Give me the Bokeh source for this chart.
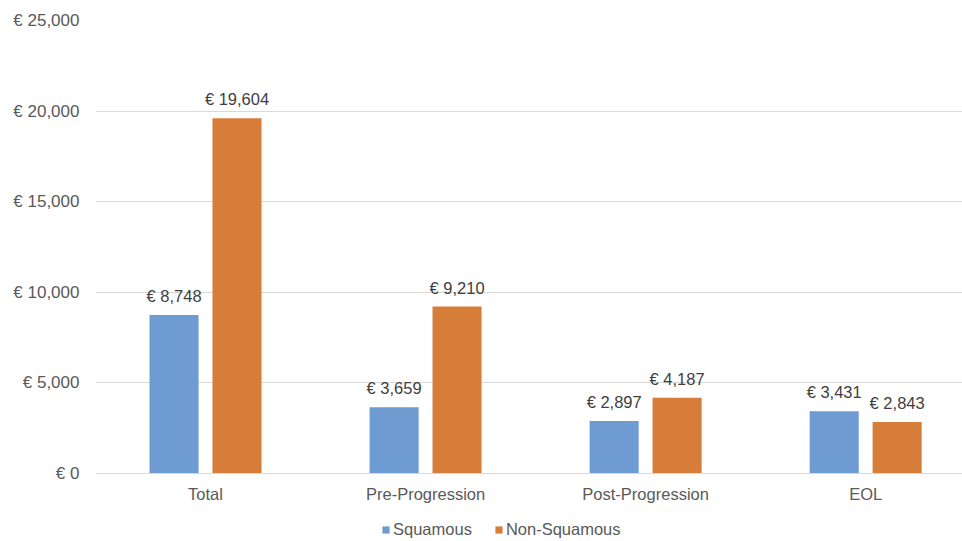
from bokeh.plotting import figure
from bokeh.layouts import column
from bokeh.models import Range1d, FixedTicker, ColumnDataSource, Legend, LegendItem, LabelSet
from bokeh.core.properties import value
from bokeh.embed import file_html
from bokeh.resources import INLINE

categories = ["Total", "Pre-Progression", "Post-Progression", "EOL"]
series_names = ["Squamous", "Non-Squamous"]
squamous = [8748, 3659, 2897, 3431]
non_squamous = [19604, 9210, 4187, 2843]
y_ticks = [0, 5000, 10000, 15000, 20000, 25000]
y_tick_labels = ["€ 0", "€ 5,000", "€ 10,000", "€ 15,000", "€ 20,000", "€ 25,000"]

BLUE = "#6F9BD3"
ORANGE = "#D67D3A"
GRID = "#D9D9D9"
TXT = "#595959"
FONT = "Liberation Sans"
FS = "16.5px"

p = figure(width=962, height=510, output_backend="svg", toolbar_location=None,
           x_range=Range1d(-0.5, 3.44), y_range=Range1d(0, 25000),
           min_border_left=95, min_border_right=0, min_border_top=20,
           min_border_bottom=37)
p.outline_line_color = None

xs = list(range(len(categories)))
off = 0.143
bw = 0.223
src_a = ColumnDataSource(dict(x=[x - off for x in xs], y=squamous,
                              lab=["€ {:,}".format(v) for v in squamous]))
src_b = ColumnDataSource(dict(x=[x + off for x in xs], y=non_squamous,
                              lab=["€ {:,}".format(v) for v in non_squamous]))
p.vbar(x="x", top="y", width=bw, source=src_a, color=BLUE, line_color=None)
p.vbar(x="x", top="y", width=bw, source=src_b, color=ORANGE, line_color=None)

for s in (src_a, src_b):
    p.add_layout(LabelSet(x="x", y="y", text="lab", source=s, text_align="center",
                          text_baseline="bottom", y_offset=10, text_font=value(FONT),
                          text_font_size=FS, text_color="#404040"))

p.xaxis.ticker = FixedTicker(ticks=xs)
p.xaxis.major_label_overrides = {x: c for x, c in zip(xs, categories)}
p.xaxis.major_tick_line_color = None
p.xaxis.minor_tick_line_color = None
p.xaxis.axis_line_color = GRID
p.xaxis.major_label_text_font = FONT
p.xaxis.major_label_text_font_size = FS
p.xaxis.major_label_text_color = TXT
p.xaxis.major_label_standoff = 5

p.yaxis.ticker = FixedTicker(ticks=y_ticks)
p.yaxis.major_label_overrides = {t: l for t, l in zip(y_ticks, y_tick_labels)}
p.yaxis.major_tick_line_color = None
p.yaxis.minor_tick_line_color = None
p.yaxis.axis_line_color = None
p.yaxis.major_label_text_font = FONT
p.yaxis.major_label_text_font_size = "17px"
p.yaxis.major_label_text_color = TXT
p.yaxis.major_label_standoff = 10

p.xgrid.grid_line_color = None
p.ygrid.grid_line_color = GRID
p.ygrid.ticker = FixedTicker(ticks=y_ticks)

# legend strip below the chart (its frame is aligned with the chart's frame)
lg = figure(width=962, height=31, output_backend="svg", toolbar_location=None,
            x_range=Range1d(0, 1), y_range=Range1d(0, 1),
            min_border=0, x_axis_location=None, y_axis_location=None)
lg.outline_line_color = None
lg.xgrid.visible = False
lg.ygrid.visible = False
da = lg.vbar(x=[0.5], top=[0], bottom=[0], width=0.1, color=BLUE, line_color=None)
db = lg.vbar(x=[0.5], top=[0], bottom=[0], width=0.1, color=ORANGE, line_color=None)
legend = Legend(items=[LegendItem(label=series_names[0], renderers=[da]),
                       LegendItem(label=series_names[1], renderers=[db])],
                orientation="horizontal", location=(286, 2),
                label_text_font=FONT, label_text_font_size=FS, label_text_color=TXT,
                glyph_width=9, glyph_height=9, label_standoff=3, spacing=22,
                border_line_color=None, background_fill_alpha=0,
                padding=0, margin=0, label_height=15)
lg.add_layout(legend, "center")

open("out.html", "w").write(file_html(column(p, lg, spacing=0), INLINE))
